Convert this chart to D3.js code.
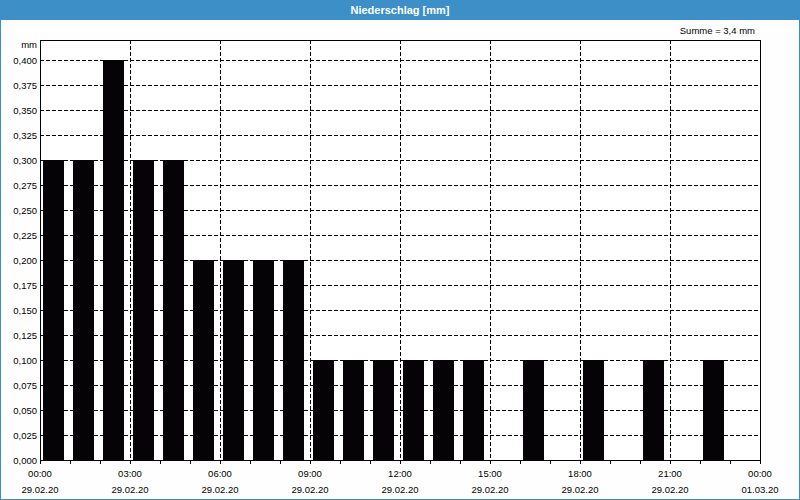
<!DOCTYPE html>
<html><head><meta charset="utf-8">
<script src="https://cdn.jsdelivr.net/npm/d3@7"></script>
<style>
html,body{margin:0;padding:0;background:#fff;}
svg{display:block;}
text{font-family:"Liberation Sans",Arial,sans-serif;}
</style></head><body>
<svg id="c" width="800" height="500"></svg>
<script>
const title = "Niederschlag [mm]";
const unitLabel = "mm";
const sumLabel = "Summe = 3,4 mm";
const hours = d3.range(24);
const values = [0.3,0.3,0.4,0.3,0.3,0.2,0.2,0.2,0.2,0.1,0.1,0.1,0.1,0.1,0.1,0,0.1,0,0.1,0,0.1,0,0.1,0];
const xTickHours = [0,3,6,9,12,15,18,21,24];
const xTickTimes = ["00:00","03:00","06:00","09:00","12:00","15:00","18:00","21:00","00:00"];
const xTickDates = ["29.02.20","29.02.20","29.02.20","29.02.20","29.02.20","29.02.20","29.02.20","29.02.20","01.03.20"];
const yTicks = d3.range(0,17).map(i=>i*0.025);

const svg = d3.select("#c");
const W=800,H=500;
const L=40,R=760,T=40,B=460;
svg.append("rect").attr("x",0).attr("y",0).attr("width",W).attr("height",H).attr("fill","#fdfefd");
svg.append("rect").attr("x",0.5).attr("y",0.5).attr("width",W-1).attr("height",H-1).attr("fill","none").attr("stroke","#3c8dc6");
svg.append("rect").attr("x",0).attr("y",0).attr("width",W).attr("height",20).attr("fill","#3c8fc7");
svg.append("text").attr("x",W/2).attr("y",14).attr("text-anchor","middle").attr("fill","#fff")
  .attr("font-size","11px").attr("font-weight","bold").text(title);

const x = d3.scaleLinear().domain([0,24]).range([L,R]);
const y = d3.scaleLinear().domain([0,0.4]).range([B,60]);

svg.append("rect").attr("x",L).attr("y",T).attr("width",R-L).attr("height",B-T).attr("fill","#fff");

// grid
const g = svg.append("g");
g.selectAll("line.h").data(yTicks.filter(v=>v>0)).join("line")
  .attr("x1",L).attr("x2",R).attr("y1",d=>Math.round(y(d))+0.5).attr("y2",d=>Math.round(y(d))+0.5)
  .attr("stroke","#000").attr("stroke-dasharray","4,2");
g.selectAll("line.v").data(xTickHours.filter(h=>h>0&&h<24)).join("line")
  .attr("y1",T).attr("y2",B).attr("x1",d=>x(d)+0.5).attr("x2",d=>x(d)+0.5)
  .attr("stroke","#000").attr("stroke-dasharray","4,2");

// bars
const hw = x(1)-x(0);
svg.selectAll("rect.bar").data(values).join("rect").attr("class","bar")
  .attr("x",(d,i)=>x(hours[i])+3).attr("width",hw-9)
  .attr("y",d=>y(d)).attr("height",d=>B-y(d)).attr("fill","#050305");

// frame
svg.append("rect").attr("x",L+0.5).attr("y",T+0.5).attr("width",R-L).attr("height",B-T)
  .attr("fill","none").attr("stroke","#000");

// y axis labels
svg.selectAll("text.yl").data(yTicks).join("text")
  .attr("x",37).attr("y",d=>y(d)+3.5).attr("text-anchor","end").attr("font-size","9.5px").attr("fill","#000")
  .text(d=>d3.format(".3f")(d).replace(".",","));
svg.append("text").attr("x",37).attr("y",48).attr("text-anchor","end").attr("font-size","9.5px").text(unitLabel);
svg.append("text").attr("x",755).attr("y",34).attr("text-anchor","end").attr("font-size","9.5px").text(sumLabel);

// x ticks
svg.selectAll("line.xt").data(d3.range(0,25)).join("line")
  .attr("x1",d=>x(d)+0.5).attr("x2",d=>x(d)+0.5).attr("y1",B).attr("y2",B+4).attr("stroke","#000");
svg.selectAll("text.xt").data(xTickHours).join("text")
  .attr("x",d=>x(d)).attr("y",477).attr("text-anchor","middle").attr("font-size","9.5px")
  .text((d,i)=>xTickTimes[i]);
svg.selectAll("text.xd").data(xTickHours).join("text")
  .attr("x",d=>x(d)).attr("y",493).attr("text-anchor","middle").attr("font-size","9.5px")
  .text((d,i)=>xTickDates[i]);
</script>
</body></html>
